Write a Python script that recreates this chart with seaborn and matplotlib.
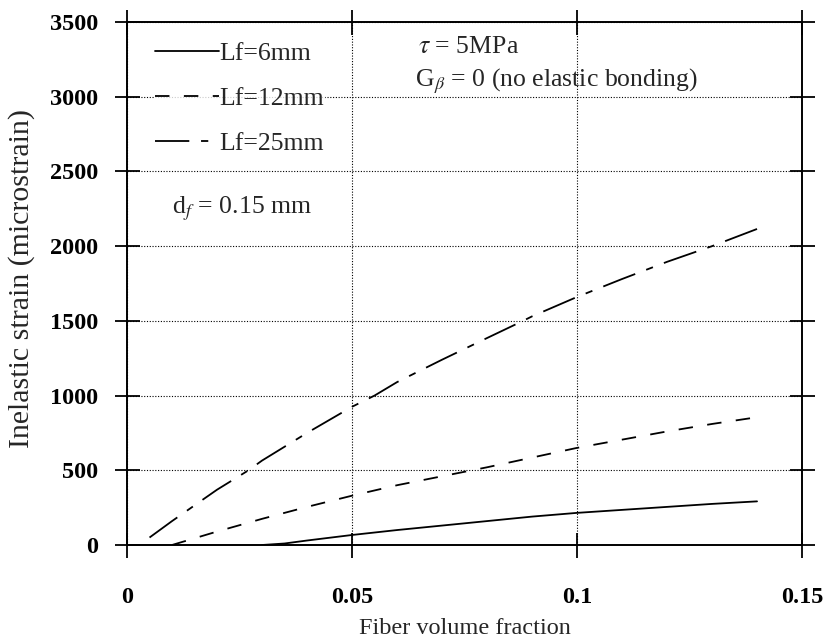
import matplotlib
matplotlib.use("Agg")
import matplotlib.pyplot as plt
import seaborn as sns
import numpy as np

# curve data (fiber volume fraction vs inelastic strain)
x_6 = [0.03, 0.035, 0.04, 0.05, 0.06, 0.07, 0.08, 0.09, 0.10, 0.11, 0.12, 0.13, 0.14]
y_6 = [0, 10, 30, 67, 100, 130, 160, 190, 215, 235, 255, 275, 292]

x_12 = [0.01, 0.02, 0.03, 0.04, 0.05, 0.06, 0.07, 0.08, 0.09, 0.10, 0.11, 0.12, 0.13, 0.14]
y_12 = [0, 90, 175, 255, 330, 400, 460, 520, 585, 650, 705, 760, 810, 855]

x_25 = [0.005, 0.01, 0.02, 0.027, 0.03, 0.04, 0.05, 0.055, 0.06, 0.07, 0.08, 0.088,
        0.09, 0.10, 0.11, 0.12, 0.13, 0.14]
y_25 = [50, 160, 370, 500, 565, 750, 925, 1000, 1090, 1240, 1385, 1500,
        1530, 1660, 1780, 1895, 2000, 2115]

labels = ["Lf=6mm", "Lf=12mm", "Lf=25mm"]
x_ticks = [0, 0.05, 0.1, 0.15]
x_tick_labels = ["0", "0.05", "0.1", "0.15"]
y_ticks = [0, 500, 1000, 1500, 2000, 2500, 3000, 3500]

sns.set_theme(style="white")
plt.rcParams['font.family'] = ['Liberation Serif', 'DejaVu Serif']
plt.rcParams['mathtext.fontset'] = 'stix'

fig, ax = plt.subplots(figsize=(8.27, 6.42), dpi=100)
fig.subplots_adjust(left=0.1536, right=0.9698, top=0.9657, bottom=0.1511)

sns.lineplot(x=x_6, y=y_6, ax=ax, color='black', lw=1.3, label=labels[0])
sns.lineplot(x=x_12, y=y_12, ax=ax, color='black', lw=1.3, label=labels[1])
sns.lineplot(x=x_25, y=y_25, ax=ax, color='black', lw=1.3, label=labels[2])
lines = ax.get_lines()
lines[1].set_dashes([8, 8])
lines[2].set_dashes([19, 6.5, 4, 6.5])

ax.set_xlim(0, 0.15)
ax.set_ylim(0, 3500)
ax.set_xticks(x_ticks)
ax.set_xticklabels(x_tick_labels)
ax.set_yticks(y_ticks)
ax.tick_params(direction='inout', length=18, width=1.3, colors='black',
               labelsize=17.5, bottom=True, left=True, top=True, right=True)
for t in ax.get_xticklabels() + ax.get_yticklabels():
    t.set_fontweight('bold')
ax.tick_params(axis='x', pad=21)
ax.tick_params(axis='y', pad=12)
ax.grid(True, linestyle=(0, (1, 1.5)), color='black', lw=0.8)
for s in ax.spines.values():
    s.set_color('black')
    s.set_linewidth(1.4)

ax.set_xlabel("Fiber volume fraction", fontsize=17.5)
ax.set_ylabel("Inelastic strain (microstrain)", fontsize=21.5)
ax.xaxis.label.set_va('baseline')
ax.xaxis.set_label_coords(0.5, -0.170)
ax.yaxis.set_label_coords(-0.136, 0.51)

leg = ax.legend(loc='upper left', bbox_to_anchor=(0.0415, 0.962), frameon=True,
                fontsize=18.5, handlelength=2.5, handletextpad=0.0,
                labelspacing=0.85, borderaxespad=0.0, borderpad=0.0)
leg.get_frame().set_facecolor('white')
leg.get_frame().set_edgecolor('white')
for h in leg.get_lines():
    h.set_linewidth(1.3)

ax.text(0.0647, 3293, r"$\tau$ = 5MPa", fontsize=18.5, va='baseline')
ax.text(0.0640, 3072, r"G$_\beta$ = 0 (no elastic bonding)", fontsize=18.5, va='baseline')
ax.text(0.0100, 2222, r"d$_f$ = 0.15 mm", fontsize=18.5, va='baseline')

plt.savefig("out.png", dpi=100)
